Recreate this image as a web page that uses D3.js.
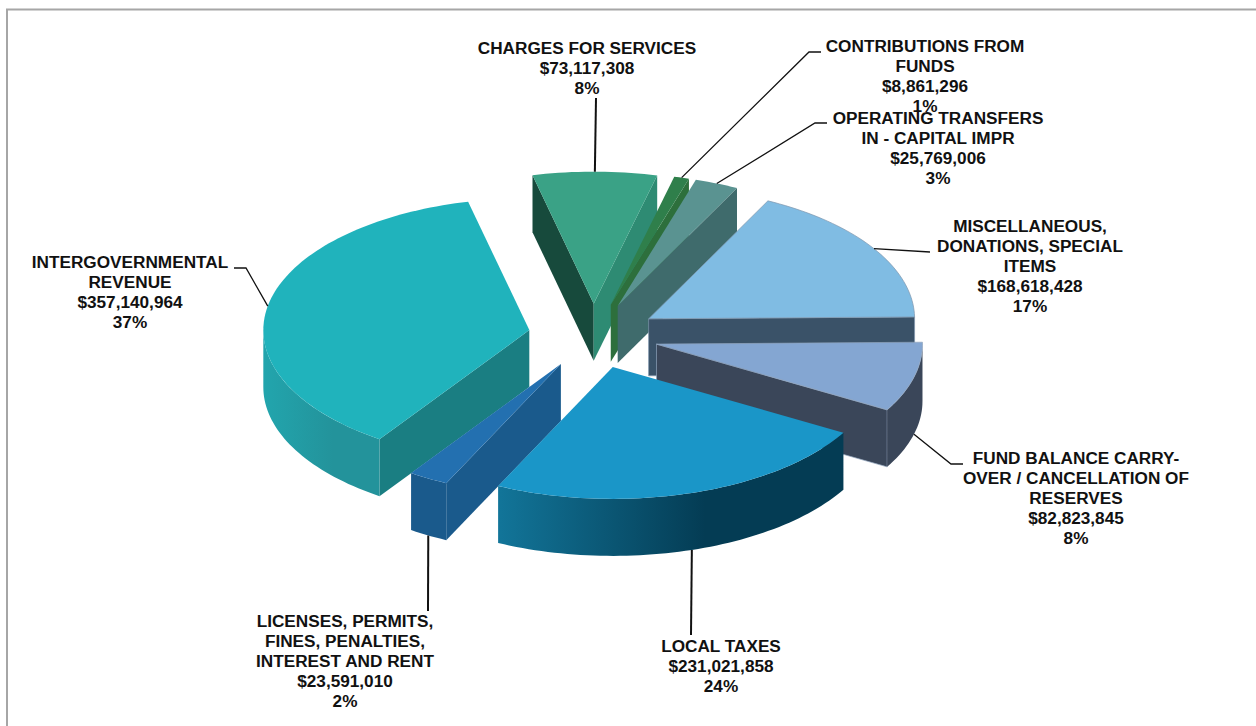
<!DOCTYPE html>
<html>
<head>
<meta charset="utf-8">
<script src="https://cdn.jsdelivr.net/npm/d3@7"></script>
<style>
  html, body { margin: 0; padding: 0; background: #fff; overflow: hidden; }
  text { font-family: "Liberation Sans", Arial, sans-serif; font-weight: bold; font-size: 17.2px; fill: #111; text-anchor: middle; }
</style>
</head>
<body>
<div id="chart"></div>
<script>
// values, in pie order
const categories = [
  ['CHARGES FOR SERVICES'],
  ['CONTRIBUTIONS FROM', 'FUNDS'],
  ['OPERATING TRANSFERS', 'IN - CAPITAL IMPR'],
  ['MISCELLANEOUS,', 'DONATIONS, SPECIAL', 'ITEMS'],
  ['FUND BALANCE CARRY-', 'OVER / CANCELLATION OF', 'RESERVES'],
  ['LOCAL TAXES'],
  ['LICENSES, PERMITS,', 'FINES, PENALTIES,', 'INTEREST AND RENT'],
  ['INTERGOVERNMENTAL', 'REVENUE']
];
const amounts = [73117308, 8861296, 25769006, 168618428, 82823845, 231021858, 23591010, 357140964];
const percents = ['8%', '1%', '3%', '17%', '8%', '24%', '2%', '37%'];

// colours per slice
const topColors = ['#3aa286', '#2f7f4b', '#5a9391', '#80bce3', '#84a6d2', '#1a96c8', '#2370b0', '#20b3bc'];
const startFaceColors = ['#174a3c', '#2d6f3c', '#3f6b6c', '#3a5268', '#3a4659', '#0a5a7c', '#1a5a8c', '#1a7e82'];
const endFaceColors = ['#2e8b73', '#2d6f3c', '#3f6b6c', '#3a5268', '#3a4659', '#0a5a7c', '#1a5a8c', '#1a7e82'];
const wallFrom = ['#2e8b73', '#2d6f3c', '#3f6b6c', '#3a5268', '#3a4659', '#127599', '#1a5a8c', '#22a5ad'];
const wallTo = ['#2e8b73', '#2d6f3c', '#3f6b6c', '#3a5268', '#3a4659', '#043c54', '#1a5a8c', '#23939b'];
const edgeColors = ['none', 'none', 'none', '#7f97ad', '#8fa3bc', 'none', 'none', 'none'];

// label layout: centre x, first baseline, leader bend points, leader weight
const labelX = [587, 925, 938, 1030, 1076, 721, 345, 130];
const labelY = [54, 52, 124, 232, 464, 652, 627, 268];
const leaderBends = [
  [[596, 98]],
  [[809, 52], [821, 52]],
  [[815, 123], [827, 123]],
  [[930, 252]],
  [[951, 464], [963, 464]],
  [[691, 635]],
  [[428, 611]],
  [[246, 268], [234, 268]]
];
const leaderWeights = [2, 1.3, 1.3, 1.3, 1.3, 2, 2, 1.3];

const width = 1256, height = 726;
const cx = 593.4, cy = 336, rx = 266, ry = 132;
const depth = 57, explode = 0.245;
const lineHeight = 20;

const svg = d3.select('#chart').append('svg')
  .attr('width', width)
  .attr('height', height)
  .style('display', 'block');

// frame: top and left only, the right and bottom fall off the picture
svg.append('path')
  .attr('d', `M7,${height}V9.5H${width}`)
  .attr('fill', 'none')
  .attr('stroke', '#a6a6a6')
  .attr('stroke-width', 2);

const defs = svg.append('defs');

// unit circle to screen; angle 0 is up, clockwise
const xScale = d3.scaleLinear().domain([-1, 1]).range([cx - rx, cx + rx]);
const yScale = d3.scaleLinear().domain([-1, 1]).range([cy + ry, cy - ry]);

const pie = d3.pie()
  .sort(null)
  .startAngle(-13.3 * Math.PI / 180)
  .endAngle(346.7 * Math.PI / 180);

const slices = pie(amounts).map((d, i) => {
  const mid = (d.startAngle + d.endAngle) / 2;
  return { ...d, i, mid, ox: explode * Math.sin(mid), oy: explode * Math.cos(mid) };
});

function project(s, angle, r, z) {
  return [
    xScale(s.ox + r * Math.sin(angle)),
    yScale(s.oy + r * Math.cos(angle)) + z
  ];
}

function arcPoints(s, a0, a1, z) {
  const n = Math.max(2, Math.ceil((a1 - a0) * 40));
  return d3.range(n + 1).map(k => project(s, a0 + (a1 - a0) * k / n, 1, z));
}

const line = d3.line();
const closed = pts => line(pts) + 'Z';

// back slices first
const drawOrder = slices.slice().sort((a, b) => d3.descending(Math.cos(a.mid), Math.cos(b.mid)));

const sliceG = svg.append('g').selectAll('g')
  .data(drawOrder)
  .join('g');

sliceG.each(function(s) {
  const g = d3.select(this);
  const tipTop = project(s, 0, 0, 0), tipBottom = project(s, 0, 0, depth);

  // flat cut faces, only where they turn towards the viewer
  if (Math.sin(s.startAngle) < 0) {
    g.append('path')
      .attr('d', closed([tipTop, project(s, s.startAngle, 1, 0), project(s, s.startAngle, 1, depth), tipBottom]))
      .attr('fill', startFaceColors[s.i]);
  }
  if (Math.sin(s.endAngle) > 0) {
    g.append('path')
      .attr('d', closed([tipTop, project(s, s.endAngle, 1, 0), project(s, s.endAngle, 1, depth), tipBottom]))
      .attr('fill', endFaceColors[s.i])
      .attr('stroke', edgeColors[s.i])
      .attr('stroke-width', 0.7);
  }

  // outer wall, front half only
  const a0 = Math.max(s.startAngle, Math.PI / 2);
  const a1 = Math.min(s.endAngle, 3 * Math.PI / 2);
  if (a1 > a0) {
    const upper = arcPoints(s, a0, a1, 0);
    const lower = arcPoints(s, a0, a1, depth).reverse();
    const xs = d3.extent(upper, p => p[0]);
    const id = `wall-${s.i}`;
    const grad = defs.append('linearGradient')
      .attr('id', id)
      .attr('gradientUnits', 'userSpaceOnUse')
      .attr('x1', xs[0]).attr('x2', xs[1])
      .attr('y1', 0).attr('y2', 0);
    grad.append('stop').attr('offset', 0).attr('stop-color', wallFrom[s.i]);
    grad.append('stop').attr('offset', 0.6).attr('stop-color', wallTo[s.i]);
    g.append('path')
      .attr('d', closed(upper.concat(lower)))
      .attr('fill', `url(#${id})`);
  }

  // top face
  g.append('path')
    .attr('d', closed([tipTop].concat(arcPoints(s, s.startAngle, s.endAngle, 0))))
    .attr('fill', topColors[s.i])
    .attr('stroke', edgeColors[s.i])
    .attr('stroke-width', 0.7);
});

// leader lines start on the rim at the slice's mid angle
const money = d3.format('$,');

svg.append('g').selectAll('path')
  .data(slices)
  .join('path')
  .attr('d', s => {
    const z = Math.cos(s.mid) < 0 ? depth : 0;
    return line([project(s, s.mid, 1, z)].concat(leaderBends[s.i]));
  })
  .attr('fill', 'none')
  .attr('stroke', '#111')
  .attr('stroke-width', s => leaderWeights[s.i]);

const labels = svg.append('g').selectAll('text')
  .data(slices)
  .join('text')
  .attr('x', s => labelX[s.i])
  .attr('y', s => labelY[s.i]);

labels.selectAll('tspan')
  .data(s => categories[s.i].concat([money(amounts[s.i]), percents[s.i]]).map((t, k) => ({ t, k, s })))
  .join('tspan')
  .attr('x', d => labelX[d.s.i])
  .attr('y', d => labelY[d.s.i] + d.k * lineHeight)
  .text(d => d.t);
</script>
</body>
</html>
